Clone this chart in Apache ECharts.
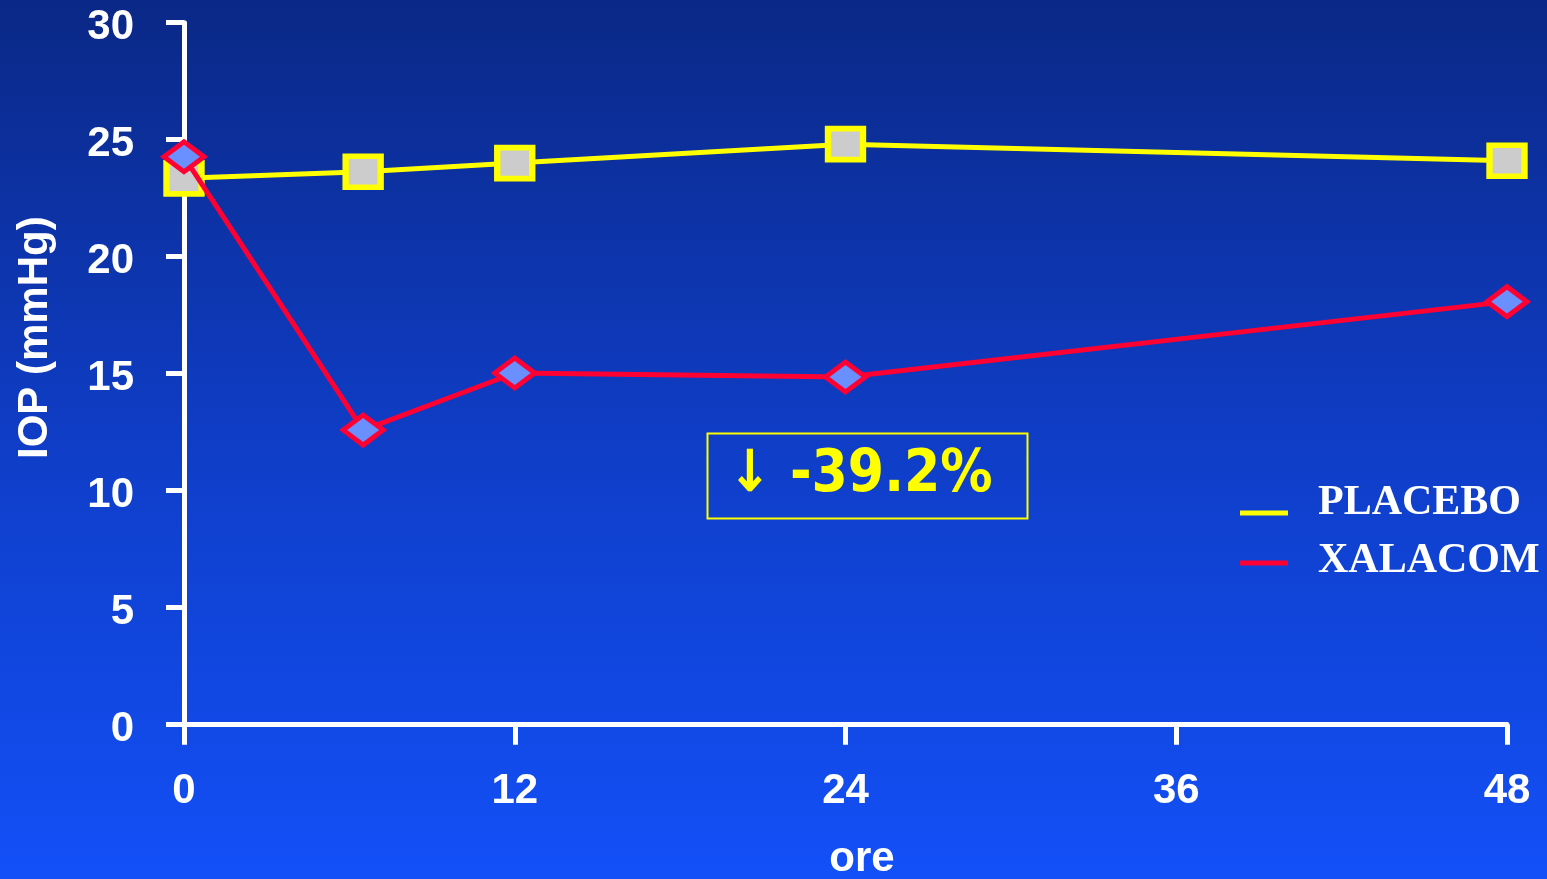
<!DOCTYPE html>
<html>
<head>
<meta charset="utf-8">
<script src="https://cdn.jsdelivr.net/npm/echarts@6/dist/echarts.min.js"></script>
<style>
html,body{margin:0;padding:0;width:1547px;height:879px;overflow:hidden;}
#chart{width:1547px;height:879px;}
</style>
</head>
<body>
<div id="chart"></div>
<script>
// Data
const hours = [0, 6.5, 12, 24, 48];
const placebo = [23.35, 23.63, 24.0, 24.81, 24.1];
const xalacom = [24.27, 12.59, 15.03, 14.86, 18.08];
const seriesNames = ['PLACEBO', 'XALACOM'];
const xTicks = [0, 12, 24, 36, 48];
const yTicks = [0, 5, 10, 15, 20, 25, 30];
const annotationText = '↓ -39.2%';

const chart = echarts.init(document.getElementById('chart'));
const sans = '"Liberation Sans", Arial, sans-serif';
const shadow = {textShadowColor: '#000', textShadowOffsetX: 2, textShadowOffsetY: 2, textShadowBlur: 0};

const option = {
  backgroundColor: new echarts.graphic.LinearGradient(0, 0, 0, 1, [
    {offset: 0, color: '#0a2886'},
    {offset: 0.5, color: '#0f3dc6'},
    {offset: 1, color: '#1350f8'}
  ]),
  animation: false,
  grid: {left: 184, width: 1323, top: 22.7, height: 702, containLabel: false, outerBoundsMode: 'none'},
  xAxis: {
    type: 'value', min: xTicks[0], max: xTicks[xTicks.length - 1], interval: 12,
    name: 'ore', nameLocation: 'middle', nameGap: 114,
    nameTextStyle: Object.assign({color: '#fff', fontFamily: sans, fontWeight: 'bold', fontSize: 42, padding: [0, 0, 0, 33]}, shadow),
    axisLine: {show: true, lineStyle: {color: '#fff', width: 5}},
    axisTick: {show: true, length: 20, lineStyle: {color: '#fff', width: 5}},
    axisLabel: Object.assign({color: '#fff', fontFamily: sans, fontWeight: 'bold', fontSize: 42, margin: 46}, shadow),
    splitLine: {show: false}
  },
  yAxis: {
    type: 'value', min: yTicks[0], max: yTicks[yTicks.length - 1], interval: 5,
    name: 'IOP (mmHg)', nameLocation: 'middle', nameGap: 128, nameRotate: 90,
    nameTextStyle: Object.assign({color: '#fff', fontFamily: sans, fontWeight: 'bold', fontSize: 42, padding: [0, 0, 0, 72]}, shadow),
    axisLine: {show: true, lineStyle: {color: '#fff', width: 5}},
    axisTick: {show: true, length: 18, lineStyle: {color: '#fff', width: 5}},
    axisLabel: Object.assign({color: '#fff', fontFamily: sans, fontWeight: 'bold', fontSize: 42, margin: 50,
      verticalAlign: 'top', lineHeight: 10}, shadow),
    splitLine: {show: false}
  },
  legend: {
    orient: 'vertical', left: 1235, top: 477,
    itemWidth: 48, itemHeight: 40, itemGap: 16,
    textStyle: Object.assign({color: '#fff', fontFamily: '"Liberation Serif", "Times New Roman", serif', fontWeight: 'bold', fontSize: 42, padding: [0, 0, 0, 25]}, shadow),
    data: [
      {name: seriesNames[0], icon: 'path://M0,0L0.01,0L0,0.01Z M0,27.5L48,27.5L48,32.5L0,32.5Z M0,40L0.01,40L0,39.99Z',
        itemStyle: {color: '#ffff00', borderWidth: 0}},
      {name: seriesNames[1], icon: 'path://M0,0L0.01,0L0,0.01Z M0,19.5L48,19.5L48,24.5L0,24.5Z M0,40L0.01,40L0,39.99Z',
        itemStyle: {color: '#ff0033', borderWidth: 0}}
    ]
  },
  series: [
    {
      name: seriesNames[0], type: 'line',
      data: hours.map((h, i) => [h, placebo[i]]),
      symbol: 'rect', symbolSize: [35, 31],
      lineStyle: {color: '#ffff00', width: 5},
      itemStyle: {color: '#cccccc', borderColor: '#ffff00', borderWidth: 6},
      z: 2
    },
    {
      name: seriesNames[1], type: 'line',
      data: hours.map((h, i) => [h, xalacom[i]]),
      symbol: 'diamond', symbolSize: [40, 30],
      lineStyle: {color: '#ff0033', width: 5},
      itemStyle: {color: '#6a8fff', borderColor: '#ff0033', borderWidth: 5},
      z: 3
    }
  ],
  graphic: [
    {type: 'rect', left: 705, top: 431, shape: {width: 320, height: 85},
      style: {fill: 'none', stroke: '#ffff00', lineWidth: 2}},
    {type: 'text', left: 728, top: 447,
      style: {text: annotationText, fill: '#ffff00',
        font: 'bold 58px "DejaVu Sans Condensed", "DejaVu Sans", sans-serif',
        shadowColor: '#000', shadowOffsetX: 2, shadowOffsetY: 2}}
  ]
};
chart.setOption(option);
</script>
</body>
</html>
